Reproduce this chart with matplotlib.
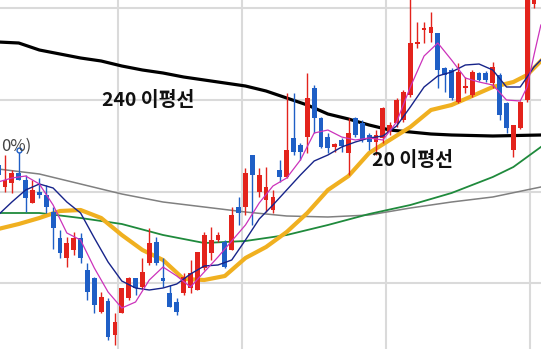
import numpy as np
import matplotlib
matplotlib.use("Agg")
import matplotlib.pyplot as plt

plt.rcParams['font.family'] = ['Noto Sans CJK KR', 'DejaVu Sans']

# candles, index -1 .. 77
opens = [184, 162, 166, 176, 169, 146, 157, 154, 137, 111, 91, 99, 111, 79, 71, 37, 48, 14, 36, 51,
         71, 62, 86, 107, 71, 56, 47, 56, 61, 59, 81, 96, 109, 107, 99, 142, 142, 194, 157, 149,
         139, 179, 172, 211, 204, 212, 261, 231, 212, 202, 209, 196, 231, 226, 214, 207, 211, 217, 226, 229,
         254, 305, 319, 316, 316, 281, 279, 247, 261, 254, 276, 276, 266, 274, 246, 199, 221, 249, 345]
highs = [187, 194, 179, 199, 174, 169, 171, 164, 142, 119, 112, 117, 116, 86, 72, 57, 51, 36, 61, 72,
         71, 91, 121, 112, 91, 64, 51, 76, 89, 97, 117, 122, 117, 109, 142, 152, 181, 194, 181, 182,
         159, 189, 256, 256, 206, 276, 264, 232, 216, 206, 211, 231, 232, 229, 216, 219, 242, 227, 251, 259,
         362, 327, 327, 337, 316, 282, 281, 286, 272, 279, 277, 278, 287, 276, 247, 224, 248, 390, 410]
lows = [171, 157, 156, 169, 137, 146, 151, 136, 100, 91, 82, 94, 86, 49, 36, 36, 9, 4, 36, 49,
        54, 60, 84, 84, 62, 42, 34, 54, 56, 59, 79, 89, 107, 81, 99, 124, 134, 124, 152, 137,
        136, 167, 171, 194, 189, 196, 216, 201, 196, 197, 197, 174, 212, 207, 199, 194, 206, 214, 222, 227,
        252, 301, 306, 307, 261, 257, 249, 246, 256, 252, 268, 267, 261, 229, 216, 192, 220, 247, 341]
closes = [174, 169, 176, 169, 151, 159, 154, 142, 121, 96, 106, 111, 91, 57, 44, 52, 12, 27, 61, 71,
          61, 77, 106, 86, 68, 42, 37, 72, 76, 97, 114, 109, 114, 82, 134, 136, 176, 174, 174, 162,
          152, 172, 199, 197, 197, 251, 231, 202, 201, 205, 203, 216, 214, 209, 207, 214, 241, 224, 249, 257,
          306, 307, 321, 322, 279, 274, 251, 277, 263, 277, 269, 269, 282, 234, 221, 224, 247, 380, 400]
days = np.arange(-1, 78)

# moving averages
ma240_idx = [-1, 2, 5, 8, 11, 14, 17, 20, 23, 26, 29, 32, 35, 38, 41, 44, 47, 50, 53, 56, 59, 62, 65, 71, 78]
ma240 = [307, 306, 299, 295, 291, 288, 283, 279, 276, 272, 269, 266, 263, 258, 251, 244, 235, 230, 224,
         219, 217, 215, 214, 213, 214]

ma20_idx = [-1, 2, 5, 8, 11, 14, 17, 20, 23, 26, 29, 32, 35, 38, 41, 44, 47, 50, 53, 56, 59, 62, 65, 68,
            71, 74, 76, 78]
ma20 = [120, 125, 131, 138, 139, 131, 114, 99, 89, 70, 69, 73, 91, 102, 117, 136, 159, 173, 196, 209,
        222, 239, 244, 253, 262, 267, 274, 288]

ma60_idx = [-1, 5, 11, 17, 23, 29, 35, 41, 47, 53, 59, 65, 71, 74, 78]
ma60 = [136, 136, 131, 125, 114, 106, 108, 114, 124, 135, 144, 156, 172, 182, 202]

ma120_idx = [-1, 5, 11, 17, 23, 29, 35, 41, 47, 53, 59, 65, 71, 78]
ma120 = [180, 175, 165, 155, 147, 142, 137, 133, 132, 134, 141, 147, 152, 162]

ma10_idx = [-1, 1, 3, 5, 7, 9, 11, 13, 15, 17, 19, 21, 23, 25, 27, 29, 31, 33, 35, 37, 39, 41, 43, 45,
            47, 49, 51, 53, 55, 57, 59, 61, 63, 65, 67, 69, 71, 73, 75, 77, 78]
ma10 = [134, 147, 159, 165, 161, 147, 136, 111, 87, 68, 61, 59, 61, 65, 75, 83, 84, 89, 109, 130, 144,
        159, 174, 188, 194, 202, 207, 211, 213, 223, 242, 262, 273, 277, 284, 285, 279, 262, 262, 282, 289]

ma5_idx = [-1, 1, 3, 5, 7, 9, 11, 13, 15, 17, 19, 21, 23, 25, 27, 29, 31, 33, 35, 37, 39, 41, 43, 45,
           47, 49, 51, 53, 55, 57, 59, 61, 63, 65, 67, 69, 71, 73, 75, 76, 77, 78]
ma5 = [167, 171, 173, 165, 144, 116, 109, 81, 57, 41, 47, 69, 82, 73, 62, 77, 92, 108, 124, 146, 163,
       171, 189, 216, 219, 212, 209, 211, 209, 227, 262, 293, 306, 289, 271, 267, 264, 249, 248, 262,
       294, 324]

grid_x = [16.45, 34.5, 55.5, 76.4]
grid_y = [66, 157, 249, 341]

fig = plt.figure(figsize=(5.41, 3.49), dpi=100)
ax = fig.add_axes([0, 0, 1, 1])
ax.set_xlim(-0.73, 78.02)
ax.set_ylim(0, 349)
ax.axis('off')

for gx in grid_x:
    ax.axvline(gx, color='#dadada', lw=1.5, zorder=0)
for gy in grid_y:
    ax.axhline(gy, color='#dadada', lw=1.5, zorder=0)

ax.plot(ma120_idx, ma120, color='#808080', lw=1.1, zorder=1)
ax.plot(ma60_idx, ma60, color='#1f8a3c', lw=1.3, zorder=1)
ax.plot(ma240_idx, ma240, color='#000000', lw=2.3, zorder=1)
ax.plot(ma20_idx, ma20, color='#f0b020', lw=3.0, zorder=1)

o = np.array(opens); c = np.array(closes)
cols = np.where(c >= o, '#e3231c', '#1f5fc6')
ax.vlines(days, lows, highs, colors=cols, lw=1.0, zorder=2)
ax.bar(days, np.maximum(np.abs(c - o), 1.2), bottom=np.minimum(o, c), width=0.7,
       color=cols, linewidth=0, zorder=2)

ax.plot(ma10_idx, ma10, color='#17248a', lw=1.0, zorder=3)
ax.plot(ma5_idx, ma5, color='#cc33bb', lw=0.9, zorder=3)

# marker at the top of the high candle
ax.plot([2], [highs[3]], marker='o', ms=3.5, mfc='white', mec='#1f5fc6', mew=1.0, zorder=4)

ax.text(0.188, 0.712, "240 이평선", transform=ax.transAxes, fontsize=14, fontweight='bold',
        ha='left', va='center', color='#111111')
ax.text(0.688, 0.541, "20 이평선", transform=ax.transAxes, fontsize=14, fontweight='bold',
        ha='left', va='center', color='#111111')
ax.text(0.003, 0.582, "0%)", transform=ax.transAxes, fontsize=12, ha='left', va='center',
        color='#444444', zorder=5)

fig.savefig("out.png", dpi=100)
